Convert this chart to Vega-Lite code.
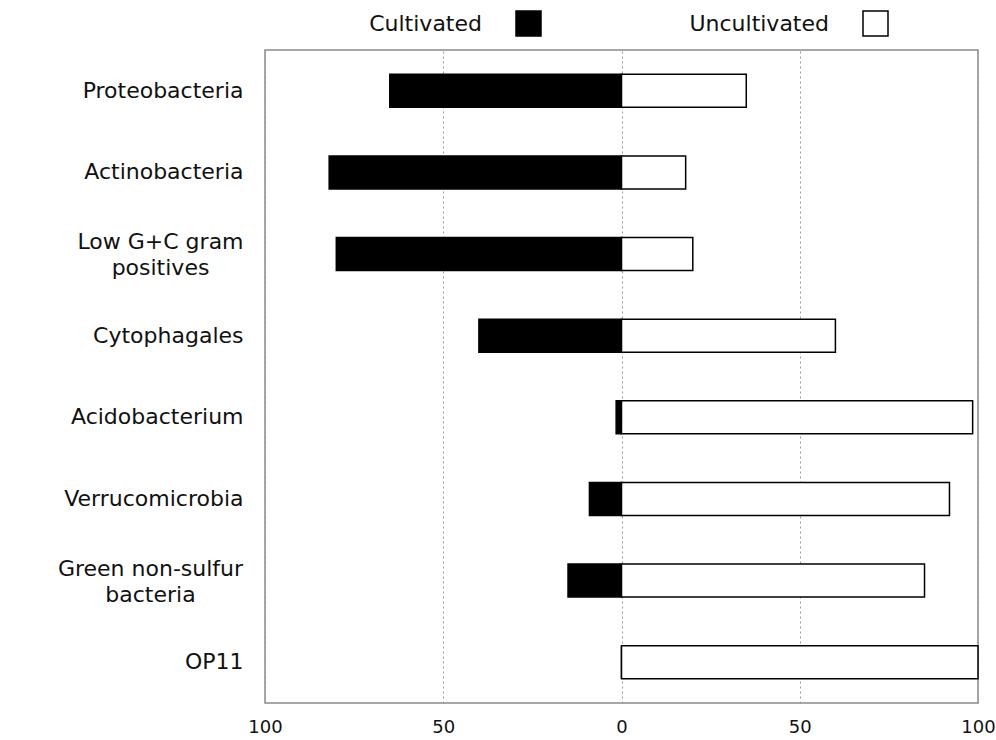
{
  "$schema": "https://vega.github.io/schema/vega-lite/v6.json",
  "autosize": "none",
  "width": 713,
  "height": 653,
  "padding": {"left": 265, "top": 50, "right": 18, "bottom": 37},
  "background": "white",
  "config": {
    "font": "DejaVu Sans",
    "view": {"stroke": "#8a8a8a", "strokeWidth": 1.5}
  },
  "data": {
    "values": [
      {"phylum": "Proteobacteria", "type": "Cultivated", "value": -65},
      {"phylum": "Proteobacteria", "type": "Uncultivated", "value": 35},
      {"phylum": "Actinobacteria", "type": "Cultivated", "value": -82},
      {"phylum": "Actinobacteria", "type": "Uncultivated", "value": 18},
      {"phylum": "Low G+C gram positives", "type": "Cultivated", "value": -80},
      {"phylum": "Low G+C gram positives", "type": "Uncultivated", "value": 20},
      {"phylum": "Cytophagales", "type": "Cultivated", "value": -40},
      {"phylum": "Cytophagales", "type": "Uncultivated", "value": 60},
      {"phylum": "Acidobacterium", "type": "Cultivated", "value": -1.5},
      {"phylum": "Acidobacterium", "type": "Uncultivated", "value": 98.5},
      {"phylum": "Verrucomicrobia", "type": "Cultivated", "value": -9},
      {"phylum": "Verrucomicrobia", "type": "Uncultivated", "value": 92},
      {"phylum": "Green non-sulfur bacteria", "type": "Cultivated", "value": -15},
      {"phylum": "Green non-sulfur bacteria", "type": "Uncultivated", "value": 85},
      {"phylum": "OP11", "type": "Cultivated", "value": 0},
      {"phylum": "OP11", "type": "Uncultivated", "value": 100}
    ]
  },
  "mark": {"type": "bar", "stroke": "black", "strokeWidth": 1.5},
  "encoding": {
    "y": {
      "field": "phylum",
      "type": "nominal",
      "sort": null,
      "scale": {
        "domain": ["Proteobacteria", "Actinobacteria", "Low G+C gram positives", "Cytophagales", "Acidobacterium", "Verrucomicrobia", "Green non-sulfur bacteria", "OP11"],
        "paddingInner": 0.596,
        "paddingOuter": 0.298
      },
      "axis": {
        "title": null,
        "ticks": false,
        "domain": false,
        "grid": false,
        "labelFontSize": 22,
        "labelColor": "#111",
        "labelLimit": 300,
        "labelLineHeight": 26,
        "labelExpr": "datum.label == 'Low G+C gram positives' ? ['Low G+C gram', 'positives'] : datum.label == 'Green non-sulfur bacteria' ? ['Green non-sulfur', 'bacteria'] : datum.label",
        "labelAlign": {
          "condition": {"test": "datum.value == 'Low G+C gram positives' || datum.value == 'Green non-sulfur bacteria'", "value": "center"},
          "value": "right"
        },
        "labelOffset": {
          "condition": {"test": "datum.value == 'Low G+C gram positives' || datum.value == 'Green non-sulfur bacteria'", "value": -12},
          "value": 0
        },
        "labelPadding": {
          "condition": [
            {"test": "datum.value == 'Low G+C gram positives'", "value": 105},
            {"test": "datum.value == 'Green non-sulfur bacteria'", "value": 115}
          ],
          "value": 22
        }
      }
    },
    "x": {
      "field": "value",
      "type": "quantitative",
      "stack": null,
      "scale": {"domain": [-100, 100], "nice": false},
      "axis": {
        "title": null,
        "values": [-100, -50, 0, 50, 100],
        "labelExpr": "abs(datum.value)",
        "ticks": false,
        "domain": false,
        "grid": true,
        "gridColor": "#9a9a9a",
        "gridDash": [2, 3],
        "gridWidth": 1,
        "labelFontSize": 18,
        "labelColor": "#111",
        "labelPadding": 15,
        "labelFlush": false
      }
    },
    "fill": {
      "field": "type",
      "type": "nominal",
      "scale": {"domain": ["Cultivated", "Uncultivated"], "range": ["black", "white"]},
      "legend": {
        "title": null,
        "orient": "none",
        "direction": "horizontal",
        "legendX": 250,
        "legendY": -40,
        "symbolType": "square",
        "symbolSize": 625,
        "symbolStrokeColor": "black",
        "symbolStrokeWidth": 1.5,
        "symbolOpacity": 1,
        "labelFontSize": 22,
        "labelColor": "#111",
        "labelAlign": "right",
        "labelOffset": -60,
        "columnPadding": 145
      }
    }
  }
}
